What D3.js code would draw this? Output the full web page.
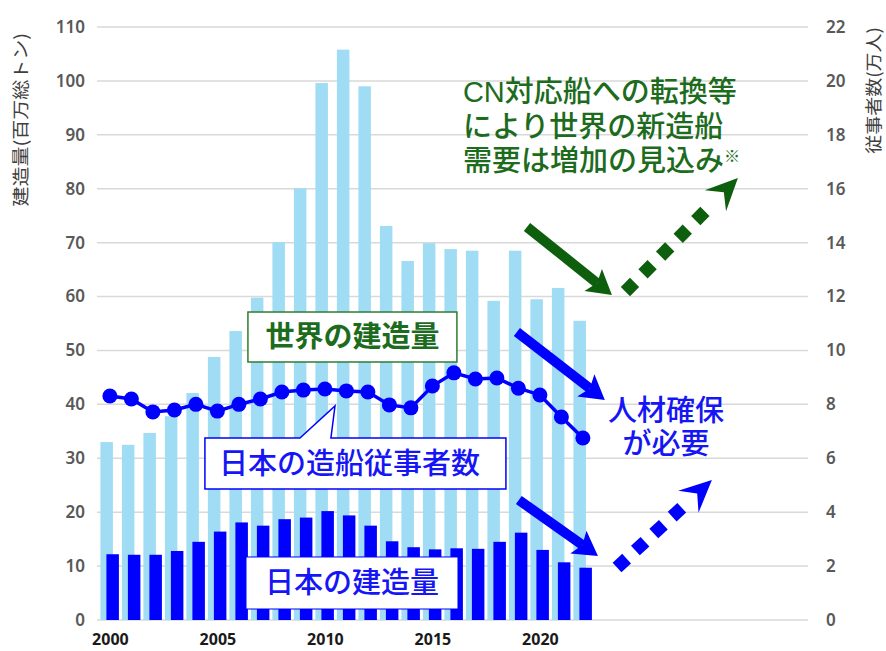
<!DOCTYPE html>
<html><head><meta charset="utf-8">
<script src="https://cdn.jsdelivr.net/npm/d3@7"></script>
<style>
html,body{margin:0;padding:0;background:#fff;}
svg{display:block;font-family:"Noto Sans CJK JP","Noto Sans",sans-serif;}
</style></head>
<body>
<svg id="chart" width="886" height="651"></svg>
<script>
// ---- data ----
const years = d3.range(2000, 2023);
const worldBuild = [33,32.5,34.7,37.8,42.1,48.8,53.6,59.8,70.1,80.1,99.6,105.8,99,73.1,66.6,69.9,68.8,68.5,59.2,68.5,59.5,61.6,55.5];
const japanBuild = [12.2,12.1,12.1,12.8,14.5,16.4,18.1,17.5,18.7,19,20.2,19.4,17.5,14.6,13.5,13.1,13.3,13.2,14.5,16.2,13,10.7,9.7];
const employees = [8.31,8.2,7.72,7.79,8.0,7.75,8.0,8.2,8.46,8.53,8.57,8.5,8.46,7.98,7.87,8.68,9.17,8.94,8.98,8.6,8.35,7.53,6.75];
const leftTicks = d3.range(0, 111, 10);
const rightTicks = d3.range(0, 23, 2);
const xTicks = [2000, 2005, 2010, 2015, 2020];
const leftTitle = "建造量(百万総トン)";
const rightTitle = "従事者数(万人)";
const greenNote = ["CN対応船への転換等", "により世界の新造船", "需要は増加の見込み"];
const blueNote = ["人材確保", "が必要"];

// ---- scales ----
const svg = d3.select("#chart");
const x = d3.scaleLinear().domain([1999.4, 2032.47]).range([97, 808]);
const yL = d3.scaleLinear().domain([0, 110]).range([620, 27]);
const yR = d3.scaleLinear().domain([0, 22]).range([620, 27]);
const P = (yr, v) => [x(yr), yL(v)];

const LIGHT = "#a0dcf4", BLUE = "#0000ff", GREEN_T = "#1d6b1d", GREEN_A = "#0d5e0d", TBLUE = "#1515f5";
const NOTE_FONT = "'Liberation Sans','Noto Sans CJK JP',sans-serif";

// ---- grid ----
svg.append("g").selectAll("line").data(leftTicks).join("line")
  .attr("x1", x.range()[0]).attr("x2", x.range()[1])
  .attr("y1", d => yL(d)).attr("y2", d => yL(d))
  .attr("stroke", "#d9d9d9").attr("stroke-width", 1.5);

// ---- axes (text only) ----
const gL = svg.append("g").attr("transform", `translate(${x.range()[0]},0)`)
  .call(d3.axisLeft(yL).tickValues(leftTicks).tickSize(0).tickPadding(12));
gL.select(".domain").remove();
gL.selectAll("text").attr("font-size", 17).attr("font-weight", 600).attr("fill", "#595959")
  .attr("font-family", "Noto Sans, sans-serif");

const gR = svg.append("g").attr("transform", `translate(${x.range()[1]},0)`)
  .call(d3.axisRight(yR).tickValues(rightTicks).tickSize(0).tickPadding(18));
gR.select(".domain").remove();
gR.selectAll("text").attr("font-size", 17).attr("font-weight", 600).attr("fill", "#595959")
  .attr("font-family", "Noto Sans, sans-serif");

const gX = svg.append("g").attr("transform", `translate(0,${yL(0)})`)
  .call(d3.axisBottom(x).tickValues(xTicks).tickFormat(d3.format("d")).tickSize(0).tickPadding(14));
gX.select(".domain").remove();
gX.selectAll("text").attr("font-size", 16).attr("font-weight", 700).attr("fill", "#1a1a1a")
  .attr("font-family", "Noto Sans, sans-serif");

svg.append("text").attr("transform", "translate(27,33) rotate(-90) scale(1,0.88)")
  .attr("text-anchor", "end").attr("font-size", 20).attr("fill", "#404040").text(leftTitle);
svg.append("text").attr("transform", "translate(880,27) rotate(-90) scale(1,0.92)")
  .attr("text-anchor", "end").attr("font-size", 19).attr("fill", "#404040").text(rightTitle);

// ---- bars ----
const bw = 12.5;
svg.append("g").selectAll("rect").data(years).join("rect")
  .attr("x", (d) => x(d) - 9.5).attr("width", bw)
  .attr("y", (d, i) => yL(worldBuild[i])).attr("height", (d, i) => yL(0) - yL(worldBuild[i]))
  .attr("fill", LIGHT);
svg.append("g").selectAll("rect").data(years).join("rect")
  .attr("x", (d) => x(d) - 3.5).attr("width", bw)
  .attr("y", (d, i) => yL(japanBuild[i])).attr("height", (d, i) => yL(0) - yL(japanBuild[i]))
  .attr("fill", BLUE);

// ---- employees line ----
svg.append("path").datum(years)
  .attr("d", d3.line().x(d => x(d)).y((d, i) => yR(employees[i])))
  .attr("fill", "none").attr("stroke", BLUE).attr("stroke-width", 3.5);
svg.append("g").selectAll("circle").data(years).join("circle")
  .attr("cx", d => x(d)).attr("cy", (d, i) => yR(employees[i])).attr("r", 7.5).attr("fill", BLUE);

// ---- annotations ----
function box(x0, v0, x1, v1, stroke, sw) {
  const [a, b] = P(x0, v0), [c, d] = P(x1, v1);
  svg.append("rect").attr("x", a).attr("y", b).attr("width", c - a).attr("height", d - b)
    .attr("fill", "#fff").attr("stroke", stroke).attr("stroke-width", sw);
  return [(a + c) / 2, (b + d) / 2];
}
// world label
let c = box(2006.42, 57.13, 2016.14, 47.86, "#2e7d32", 1.5);
svg.append("text").attr("x", c[0]).attr("y", c[1]).attr("dy", "0.36em").attr("text-anchor", "middle")
  .attr("font-size", 29).attr("font-weight", 700).attr("fill", GREEN_T).text("世界の建造量");

// employee callout
{
  const [a, b] = P(2004.42, 33.76), [cc, d] = P(2018.42, 24.30);
  const t1 = P(2008.84, 33.76), tip = P(2010.47, 39.7), t2 = P(2010.28, 33.76);
  const path = d3.path();
  path.moveTo(a, b); path.lineTo(t1[0], b); path.lineTo(tip[0], tip[1]); path.lineTo(t2[0], b);
  path.lineTo(cc, b); path.lineTo(cc, d); path.lineTo(a, d); path.closePath();
  svg.append("path").attr("d", path.toString()).attr("fill", "#fff").attr("stroke", BLUE).attr("stroke-width", 1.5);
  svg.append("text").attr("x", (a + cc) / 2 - 6).attr("y", (b + d) / 2).attr("dy", "0.36em").attr("text-anchor", "middle")
    .attr("font-size", 29).attr("font-weight", 500).attr("fill", TBLUE).text("日本の造船従事者数");
}
// japan label
c = box(2006.33, 11.69, 2016.19, 2.04, BLUE, 1);
svg.append("text").attr("x", c[0]).attr("y", c[1]).attr("dy", "0.36em").attr("text-anchor", "middle")
  .attr("font-size", 29).attr("font-weight", 500).attr("fill", TBLUE).text("日本の建造量");

// green note: one text per line
[97.94, 91.45, 85.14].forEach((v, i) => {
  const [px, py] = P(2016.42, v);
  const t = svg.append("text").attr("x", px).attr("y", py).attr("dy", "0.36em")
    .attr("font-family", NOTE_FONT)
    .attr("font-size", 29).attr("font-weight", 500).attr("fill", GREEN_T).text(greenNote[i]);
  if (i === 2) t.append("tspan").attr("font-size", 16).attr("dy", -9).text("※");
});
// blue note
[38.9, 32.7].forEach((v, i) => {
  const [px, py] = P(2025.86, v);
  svg.append("text").attr("x", px).attr("y", py).attr("dy", "0.36em").attr("text-anchor", "middle")
    .attr("font-family", NOTE_FONT)
    .attr("font-size", 29).attr("font-weight", 500).attr("fill", TBLUE).text(blueNote[i]);
});

// arrows
function arrow(from, to, color, dotted) {
  const [x0, y0] = P(from[0], from[1]), [x1, y1] = P(to[0], to[1]);
  const dx = x1 - x0, dy = y1 - y0, L = Math.hypot(dx, dy), ux = dx / L, uy = dy / L;
  const nx = -uy, ny = ux;
  const hl = dotted ? 32 : 24, hw = dotted ? 15 : 14, notch = dotted ? 12 : 5;
  const bx = x1 - ux * hl, by = y1 - uy * hl;
  if (!dotted) {
    svg.append("line").attr("x1", x0).attr("y1", y0).attr("x2", bx + ux * notch).attr("y2", by + uy * notch)
      .attr("stroke", color).attr("stroke-width", 10);
  } else {
    const step = 25, s = 6.5;
    for (let t = 0; t < L - hl - 4; t += step) {
      const cx = x0 + ux * t, cy = y0 + uy * t;
      svg.append("rect").attr("x", -s).attr("y", -s).attr("width", 2 * s).attr("height", 2 * s)
        .attr("transform", `translate(${cx},${cy}) rotate(${Math.atan2(dy, dx) * 180 / Math.PI})`)
        .attr("fill", color);
    }
  }
  const pts = [[x1, y1], [bx + nx * hw, by + ny * hw], [bx + ux * notch, by + uy * notch], [bx - nx * hw, by - ny * hw]];
  svg.append("polygon").attr("points", pts.map(p => p.join(",")).join(" ")).attr("fill", color);
}
arrow([2019.40, 72.9], [2023.35, 60.29], GREEN_A, false);
arrow([2024.19, 61.77], [2029.21, 81.99], GREEN_A, true);
arrow([2018.93, 53.42], [2023.02, 40.81], BLUE, false);
arrow([2019.02, 22.26], [2022.70, 11.87], BLUE, false);
arrow([2023.81, 10.57], [2028.0, 25.97], BLUE, true);
</script>
</body></html>
